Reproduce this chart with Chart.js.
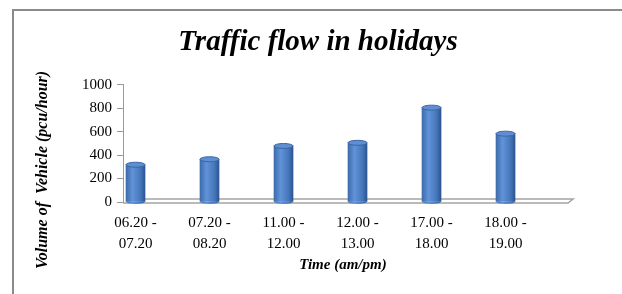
<!DOCTYPE html>
<html>
<head>
<meta charset="utf-8">
<script src="https://cdn.jsdelivr.net/npm/chart.js@4.4.1/dist/chart.umd.min.js"></script>
<style>
    html, body { margin: 0; padding: 0; background: #fff; overflow: hidden; }
    #wrap { position: relative; width: 622px; height: 294px; }
    #frame { position: absolute; left: 12px; top: 9px; width: 700px; height: 400px;
             border-left: 2px solid #8a8a8a; border-top: 2px solid #8a8a8a; }
    canvas { position: absolute; left: 0; top: 0; }
</style>
</head>
<body>
<div id="wrap">
    <div id="frame"></div>
    <canvas id="chart" width="622" height="294"></canvas>
</div>
<script>
// ── Dados ────────────────────────────────────────────────────────────────────
const periodos = [
    ['06.20 -', '07.20'],
    ['07.20 -', '08.20'],
    ['11.00 -', '12.00'],
    ['12.00 -', '13.00'],
    ['17.00 -', '18.00'],
    ['18.00 -', '19.00'],
];
const volumes = [318, 365, 478, 505, 805, 583];
const yTicks = [0, 200, 400, 600, 800, 1000];

const serif = '"Liberation Serif", "Times New Roman", serif';
const FIM_CHAO = 5.845;   // fim do "piso" 3D, em unidades do eixo x

// gradiente horizontal do "cilindro"
function corBarra(ctx) {
    const chart = ctx.chart;
    if (!chart.chartArea) return '#4a7dc0';
    const x = chart.scales.x.getPixelForValue(ctx.dataIndex);
    const g = chart.ctx.createLinearGradient(x - 10, 0, x + 10, 0);
    g.addColorStop(0, '#3b69a8');
    g.addColorStop(0.35, '#6193d9');
    g.addColorStop(0.75, '#4676ba');
    g.addColorStop(1, '#28528c');
    return g;
}

// ── Plugins ──────────────────────────────────────────────────────────────────
const chao3d = {
    id: 'chao3d',
    beforeDatasetsDraw(chart) {
        const { ctx, chartArea: a } = chart;
        const b = chart.scales.y.getPixelForValue(0);
        const r = chart.scales.x.getPixelForValue(FIM_CHAO);
        ctx.save();
        ctx.strokeStyle = '#a4a4a4';
        ctx.lineWidth = 1.5;
        ctx.beginPath();
        ctx.moveTo(a.left, b + 1);
        ctx.lineTo(r, b + 1);
        ctx.lineTo(r + 5, b - 3);
        ctx.lineTo(a.left + 4, b - 3);
        ctx.stroke();
        ctx.restore();
    }
};

const cilindros = {
    id: 'cilindros',
    afterDatasetsDraw(chart) {
        const { ctx } = chart;
        chart.getDatasetMeta(0).data.forEach(bar => {
            const rx = bar.width / 2;
            ctx.save();
            ctx.fillStyle = bar.options.backgroundColor;
            ctx.beginPath();
            ctx.ellipse(bar.x, bar.base, rx, 2.5, 0, 0, Math.PI);
            ctx.fill();
            ctx.fillStyle = '#5f8fd2';
            ctx.strokeStyle = '#3a66a2';
            ctx.lineWidth = 1;
            ctx.beginPath();
            ctx.ellipse(bar.x, bar.y, rx, 2.5, 0, 0, Math.PI * 2);
            ctx.fill();
            ctx.stroke();
            ctx.restore();
        });
    }
};

// títulos dos eixos em posição livre
const titulosEixos = {
    id: 'titulosEixos',
    afterDraw(chart) {
        const { ctx } = chart;
        ctx.save();
        ctx.fillStyle = '#000';
        ctx.textAlign = 'center';
        ctx.textBaseline = 'middle';
        ctx.font = 'italic bold 15px ' + serif;
        ctx.fillText('Time (am/pm)', 343, 265);
        ctx.translate(43, 170);
        ctx.rotate(-Math.PI / 2);
        ctx.font = 'italic bold 16px ' + serif;
        ctx.fillText('Volume of  Vehicle (pcu/hour)', 0, 0);
        ctx.restore();
    }
};

// ── Gráfico ──────────────────────────────────────────────────────────────────
new Chart(document.getElementById('chart'), {
    type: 'bar',
    data: {
        datasets: [{
            data: volumes.map((v, i) => ({ x: i, y: v })),
            backgroundColor: corBarra,
            barThickness: 19,
        }]
    },
    options: {
        responsive: false,
        animation: false,
        layout: { padding: { left: 14, right: 0, top: 0, bottom: 0 } },
        plugins: {
            legend: { display: false },
            tooltip: { enabled: false },
            title: {
                display: true,
                text: 'Traffic flow in holidays',
                color: '#000',
                font: { family: serif, size: 29, style: 'italic', weight: 'bold' },
                padding: { top: 25, bottom: 25 },
            },
        },
        scales: {
            x: {
                type: 'linear',
                min: -0.169,
                max: 6.574,
                offset: false,
                grid: { display: false },
                border: { display: false },
                afterBuildTicks: s => { s.ticks = periodos.map((_, i) => ({ value: i })); },
                afterFit: s => { s.height = 92; },
                ticks: {
                    callback: v => periodos[v],
                    color: '#000',
                    font: { family: serif, size: 15, lineHeight: 1.4 },
                    padding: 3,
                    maxRotation: 0,
                    autoSkip: false,
                },
            },
            y: {
                min: 0,
                max: 1000,
                afterBuildTicks: s => { s.ticks = yTicks.map(v => ({ value: v })); },
                afterFit: s => { s.width = 109; },
                grid: { drawOnChartArea: false, drawTicks: true, tickLength: 6, color: '#9a9a9a' },
                border: { color: '#9a9a9a', width: 1 },
                ticks: {
                    callback: v => String(v),
                    color: '#000',
                    font: { family: serif, size: 15 },
                    padding: 5,
                },
            },
        },
    },
    plugins: [chao3d, cilindros, titulosEixos],
});
</script>
</body>
</html>
